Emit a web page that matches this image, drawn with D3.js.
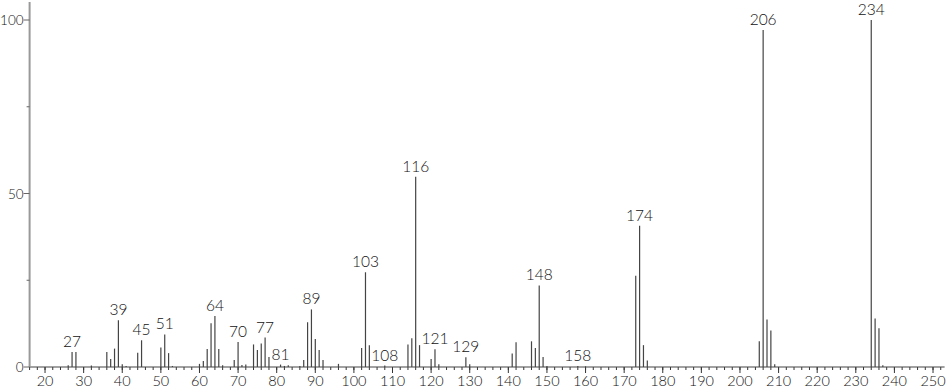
<!DOCTYPE html>
<html>
<head>
<meta charset="utf-8">
<script src="https://cdn.jsdelivr.net/npm/d3@7"></script>
<style>
  html, body { margin: 0; padding: 0; background: #fff; }
  svg text { font-family: "Lato", "DejaVu Sans", sans-serif; font-weight: 300; fill: #111; }
</style>
</head>
<body>
<svg id="chart" width="951" height="389"></svg>
<script>
// m/z values and relative intensities (%)
const mz = [26, 27, 28, 32, 36, 37, 38, 39, 40, 41, 44, 45, 50, 51, 52, 53,
  60, 61, 62, 63, 64, 65, 66, 69, 70, 71, 72, 74, 75, 76, 77, 78, 81, 82, 83, 86,
  87, 88, 89, 90, 91, 92, 96, 102, 103, 104, 108, 114, 115, 116, 117, 120, 121, 122,
  129, 130, 141, 142, 146, 147, 148, 149, 150, 158, 160, 173, 174, 175, 176,
  205, 206, 207, 208, 209, 234, 235, 236, 237];
const intensity = [0.5, 4.3, 4.3, 0.4, 4.3, 2.3, 5.3, 13.5, 0.8, 0.3, 4.1, 7.7, 5.6, 9.4, 4.0, 0.3,
  0.9, 1.7, 5.2, 12.6, 14.7, 5.2, 0.5, 2.0, 7.2, 0.6, 0.7, 6.5, 4.9, 6.8, 8.5, 2.9, 0.7, 0.3, 0.5, 0.3,
  2.0, 12.9, 16.6, 8.1, 4.9, 2.0, 0.9, 5.5, 27.3, 6.3, 0.4, 6.5, 8.3, 54.8, 6.3, 2.3, 5.1, 0.8,
  2.8, 0.8, 3.9, 7.1, 7.4, 5.5, 23.5, 2.9, 0.3, 0.3, 0.2, 26.3, 40.7, 6.3, 1.9,
  7.4, 97.1, 13.7, 10.5, 0.8, 100, 14.0, 11.2, 0.5];
const labelledPeaks = [27, 39, 45, 51, 64, 70, 77, 81, 89, 103, 108, 116, 121, 129, 148, 158, 174, 206, 234];
const xMajorTicks = d3.range(20, 251, 10);
const xMinorTicks = d3.range(16, 253, 2);
const yMajorTicks = [0, 50, 100];
const yMinorTicks = [25, 75];

const data = mz.map((m, i) => ({ mz: m, v: intensity[i] }));
const svg = d3.select("#chart");

const x = d3.scaleLinear().domain([16, 253]).range([29.6, 944.6]);
const y = d3.scaleLinear().domain([0, 100]).range([367, 20]);

// peaks
svg.append("g").selectAll("line").data(data).join("line")
  .attr("x1", d => x(d.mz)).attr("x2", d => x(d.mz))
  .attr("y1", y(0)).attr("y2", d => y(d.v))
  .attr("stroke", "#444").attr("stroke-width", 1.2);

// x axis ticks
const gx = svg.append("g");
gx.selectAll("line.minor").data(xMinorTicks).join("line").attr("class", "minor")
  .attr("x1", d => x(d)).attr("x2", d => x(d))
  .attr("y1", y(0)).attr("y2", y(0) + 3)
  .attr("stroke", "#333").attr("stroke-width", 1);
gx.selectAll("line.major").data(xMajorTicks).join("line").attr("class", "major")
  .attr("x1", d => x(d)).attr("x2", d => x(d))
  .attr("y1", y(0)).attr("y2", y(0) + 6)
  .attr("stroke", "#333").attr("stroke-width", 1);
gx.selectAll("text").data(xMajorTicks).join("text")
  .attr("x", d => x(d)).attr("y", 386)
  .attr("text-anchor", "middle").attr("font-size", 14.5)
  .text(d => d);
gx.append("line")
  .attr("x1", x(16)).attr("x2", x(253))
  .attr("y1", y(0)).attr("y2", y(0))
  .attr("stroke", "#444").attr("stroke-width", 1.2);

// y axis
const gy = svg.append("g");
gy.append("line")
  .attr("x1", x(16)).attr("x2", x(16))
  .attr("y1", 2).attr("y2", y(0))
  .attr("stroke", "#999").attr("stroke-width", 2);
gy.selectAll("line.major").data(yMajorTicks).join("line").attr("class", "major")
  .attr("x1", x(16) - 6).attr("x2", x(16))
  .attr("y1", d => y(d)).attr("y2", d => y(d))
  .attr("stroke", "#666").attr("stroke-width", 1);
gy.selectAll("line.minor").data(yMinorTicks).join("line").attr("class", "minor")
  .attr("x1", x(16) - 3).attr("x2", x(16))
  .attr("y1", d => y(d)).attr("y2", d => y(d))
  .attr("stroke", "#666").attr("stroke-width", 1);
gy.selectAll("text").data(yMajorTicks).join("text")
  .attr("x", x(16) - 6).attr("y", d => y(d) + 5)
  .attr("text-anchor", "end").attr("font-size", 13.5)
  .text(d => d);

// peak labels
const lab = data.filter(d => labelledPeaks.includes(d.mz));
svg.append("g").selectAll("text").data(lab).join("text")
  .attr("x", d => x(d.mz)).attr("y", d => y(d.v) - 5)
  .attr("text-anchor", "middle").attr("font-size", 15.5)
  .text(d => d.mz);
</script>
</body>
</html>
